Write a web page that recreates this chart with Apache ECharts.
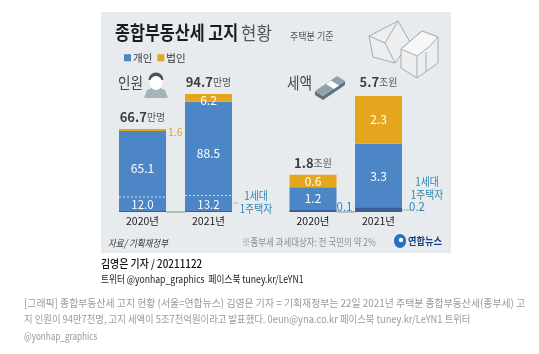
<!DOCTYPE html>
<html>
<head>
<meta charset="utf-8">
<style>
  html, body { margin: 0; padding: 0; background: #fff; }
  #main { width: 539px; height: 354px; }
</style>
</head>
<body>
<div id="main"></div>
<script src="https://cdn.jsdelivr.net/npm/echarts@6/dist/echarts.min.js"></script>
<script>
// 데이터
const years = ['2020년', '2021년']
const peopleIndividual = [65.1, 88.5]
const peopleCorporate = [1.6, 6.2]
const peopleOneHome = [12.0, 13.2]
const peopleTotal = [66.7, 94.7]
const taxIndividual = [1.2, 3.3]
const taxCorporate = [0.6, 2.3]
const taxOneHome = [0.1, 0.2]
const taxTotal = [1.8, 5.7]

const FONT = '"Noto Sans CJK KR", "Noto Sans", sans-serif'
const BLUE = '#4c86c6'
const ORANGE = '#e4a61d'
const TEAL = '#2b86b4'
const LINE = '#a8acaf'
const BAR_W = 47

const chart = echarts.init(document.getElementById('main'))

// 글자 폭을 좁혀서 쓰는 텍스트
function txt(x, y, text, size, fill, opt) {
  opt = opt || {}
  return {
    type: 'text', x: x, y: y, scaleX: opt.sx || 1, z: 20,
    style: {
      text: text, fill: fill,
      font: (opt.style || '') + ' ' + (opt.weight || 400) + ' ' + size + 'px ' + FONT,
      textAlign: opt.align || 'left', textVerticalAlign: 'middle'
    }
  }
}
function poly(points, fill, stroke, w) {
  return {
    type: 'polygon', z: 5, shape: { points: points },
    style: { fill: fill, stroke: stroke || null, lineWidth: w || 1 }
  }
}
function seg(x1, y1, x2, y2, color, w) {
  return {
    type: 'line', z: 6, shape: { x1: x1, y1: y1, x2: x2, y2: y2 },
    style: { stroke: color, lineWidth: w || 1 }
  }
}

const graphics = [
  { type: 'rect', z: -10, shape: { x: 101, y: 12, width: 350, height: 241 }, style: { fill: '#e8ebee' } },

  txt(115, 33, '종합부동산세 고지', 19, '#1c1c1c', { weight: 700, sx: 0.855 }),
  txt(241, 33, '현황', 18, '#555', { sx: 0.93 }),
  txt(290, 36, '주택분 기준', 10.5, '#555', { sx: 0.86 }),
  txt(118, 83, '인원', 16, '#444', { sx: 0.85 }),
  txt(287, 83, '세액', 16, '#444', { sx: 0.85 }),
  txt(256, 196, '1세대', 11.5, TEAL, { align: 'center', sx: 0.85 }),
  txt(256, 209, '1주택자', 11.5, TEAL, { align: 'center', sx: 0.85 }),
  txt(427, 182, '1세대', 11.5, TEAL, { align: 'center', sx: 0.85 }),
  txt(427, 195, '1주택자', 11.5, TEAL, { align: 'center', sx: 0.85 }),
  txt(108, 243, '자료/ 기획재정부', 10, '#333', { style: 'italic', sx: 0.85 }),
  txt(242, 242, '※종부세 과세대상자: 전 국민의 약 2%', 10, '#8b8f93', { sx: 0.845 }),
  txt(408, 241, '연합뉴스', 10.5, '#1b3f80', { weight: 700, sx: 0.88 }),

  // 기준선
  seg(166, 212, 185, 212, '#a9adb0', 1.5),
  seg(233, 203, 238, 203, '#b4b8bb', 1),
  seg(337, 212, 355, 212, '#a9adb0', 1.5),
  seg(402, 210, 410, 210, '#a9adb0', 1),

  // 사람 아이콘
  poly([[144, 98], [147, 90], [156, 86], [165, 90], [168, 98]], '#a3b4bc'),
  { type: 'sector', z: 6, shape: { cx: 156, cy: 80, r: 7.5, startAngle: Math.PI, endAngle: 0 }, style: { fill: '#46535a' } },
  { type: 'ellipse', z: 7, shape: { cx: 156, cy: 83, rx: 6.2, ry: 7 }, style: { fill: '#fff' } },

  // 돈 아이콘
  poly([[315, 91], [323, 96], [345, 81], [345, 85], [323, 100], [315, 95]], '#5f737e'),
  poly([[315, 91], [337, 76], [345, 81], [323, 96]], '#8fa3ad'),
  poly([[326, 84], [331, 80.5], [339, 85.5], [334, 89]], '#fff'),

  // 집 아이콘
  poly([[369, 36], [398, 21], [410, 42], [395, 63], [373, 57]], '#eceef0', LINE),
  seg(369, 36, 385, 43, LINE),
  seg(385, 43, 398, 21, LINE),
  seg(385, 43, 395, 63, LINE),
  poly([[401, 49], [422, 31], [438, 37], [438, 63], [417, 78], [401, 68]], '#eceef0', LINE),
  poly([[401, 49], [422, 31], [438, 37], [430, 46], [417, 56]], '#f6f7f8', LINE),
  seg(417, 56, 417, 78, LINE),
  seg(426, 52, 426, 71, LINE),

  // 로고
  { type: 'ellipse', z: 5, shape: { cx: 400, cy: 241, rx: 6, ry: 7 }, style: { fill: '#2a6fc0' } },
  { type: 'circle', z: 6, shape: { cx: 401, cy: 240, r: 2.2 }, style: { fill: '#fff' } },

  // 본문
  txt(101, 264, '김영은 기자 / 20211122', 11, '#111', { weight: 500, sx: 0.9 }),
  txt(101, 279, '트위터 @yonhap_graphics  페이스북 tuney.kr/LeYN1', 10.5, '#222', { sx: 0.824 }),
  txt(24, 303, '[그래픽] 종합부동산세 고지 현황 (서울=연합뉴스) 김영은 기자 = 기획재정부는 22일 2021년 주택분 종합부동산세(종부세) 고', 10.5, '#9a9a9a', { sx: 0.94 }),
  txt(24, 319, '지 인원이 94만7천명, 고지 세액이 5조7천억원이라고 발표했다. 0eun@yna.co.kr 페이스북 tuney.kr/LeYN1 트위터', 10.5, '#9a9a9a', { sx: 0.89 }),
  txt(24, 336, '@yonhap_graphics', 10.5, '#9a9a9a', { sx: 0.775 })
]

// 1세대 1주택자: 막대 안 점선과 값 표시
function oneHomeRender(labelInside, darkBase) {
  return function (params, api) {
    const idx = api.value(0)
    const val = api.value(1)
    const top = api.coord([idx, val])
    const base = api.coord([idx, 0])
    const left = top[0] - BAR_W / 2
    const children = [
      {
        type: 'rect', shape: { x: left, y: base[1] - (darkBase ? (base[1] - top[1]) : 1), width: BAR_W, height: darkBase ? (base[1] - top[1]) : 1 },
        style: { fill: '#3a5f96' }
      }
    ]
    if (!darkBase) {
      children.push({
        type: 'line', shape: { x1: left, y1: top[1], x2: left + BAR_W, y2: top[1] },
        style: { stroke: '#cfe0f2', lineWidth: 1, lineDash: [2, 2] }
      })
    }
    children.push({
      type: 'text',
      style: {
        x: labelInside ? top[0] : top[0] + BAR_W / 2 + (idx === 0 ? 8 : 15),
        y: labelInside ? (top[1] + base[1]) / 2 + 0.5 : base[1] - 5,
        text: val.toFixed(1),
        fill: labelInside ? '#fff' : TEAL,
        font: '400 11.5px ' + FONT,
        textAlign: 'center', textVerticalAlign: 'middle'
      }
    })
    return { type: 'group', children: children }
  }
}

function buildSeries(i, individual, corporate, oneHome, total, unit, isPeople) {
  return [
    {
      name: '개인', type: 'bar', stack: 's' + i, xAxisIndex: i, yAxisIndex: i, barWidth: BAR_W,
      data: individual, itemStyle: { color: BLUE }, silent: true,
      label: {
        show: true, position: 'inside', offset: [0, isPeople ? -3 : -1],
        color: '#fff', fontSize: 12, fontFamily: FONT,
        formatter: p => p.value.toFixed(1)
      }
    },
    {
      name: '법인', type: 'bar', stack: 's' + i, xAxisIndex: i, yAxisIndex: i, barWidth: BAR_W,
      itemStyle: { color: ORANGE }, silent: true,
      data: corporate.map(function (v, k) {
        if (isPeople && k === 0) {
          return { value: v, label: { show: true, position: 'right', distance: 2, color: ORANGE, fontSize: 10.5, offset: [0, 2] } }
        }
        return { value: v, label: { show: true, position: 'inside', color: '#fff', fontSize: 12, offset: isPeople ? [0, 3] : [0, 0] } }
      }),
      label: { fontFamily: FONT, formatter: p => p.value.toFixed(1) }
    },
    {
      type: 'scatter', xAxisIndex: i, yAxisIndex: i, symbolSize: 0, silent: true,
      data: total,
      label: {
        show: true, position: 'top', distance: 5,
        formatter: p => '{v|' + p.value.toFixed(1) + '}{u|' + unit + '}',
        rich: {
          v: { fontFamily: FONT, fontSize: 13, fontWeight: 700, color: '#111' },
          u: { fontFamily: FONT, fontSize: 10, color: '#333' }
        }
      }
    },
    {
      type: 'custom', xAxisIndex: i, yAxisIndex: i, silent: true, z: 10,
      renderItem: oneHomeRender(isPeople, !isPeople),
      data: oneHome.map((v, k) => [k, v]),
      encode: { x: 0, y: 1 }
    }
  ]
}

const axisX = (i) => ({
  type: 'category', gridIndex: i, data: years,
  axisLine: { show: false }, axisTick: { show: false },
  axisLabel: { color: '#222', fontSize: 10.5, fontFamily: FONT, margin: 4 }
})
const axisY = (i, max) => ({
  type: 'value', gridIndex: i, min: 0, max: max, show: false, splitLine: { show: false }
})

const option = {
  animation: false,
  backgroundColor: '#fff',
  textStyle: { fontFamily: FONT },
  legend: {
    left: 119, top: 47.5, itemWidth: 7, itemHeight: 7, itemGap: 5, icon: 'rect',
    data: ['개인', '법인'],
    selectedMode: false,
    textStyle: { color: '#333', fontSize: 10.5, fontFamily: FONT, padding: [0, 0, 0, -3] }
  },
  grid: [
    { left: 109.5, width: 132, top: 94, height: 118 },
    { left: 280.25, width: 131, top: 94, height: 118 }
  ],
  xAxis: [axisX(0), axisX(1)],
  yAxis: [axisY(0, peopleTotal[1]), axisY(1, taxTotal[1])],
  series: buildSeries(0, peopleIndividual, peopleCorporate, peopleOneHome, peopleTotal, '만명', true)
    .concat(buildSeries(1, taxIndividual, taxCorporate, taxOneHome, taxTotal, '조원', false)),
  graphic: { elements: graphics }
}

chart.setOption(option)
</script>
</body>
</html>
